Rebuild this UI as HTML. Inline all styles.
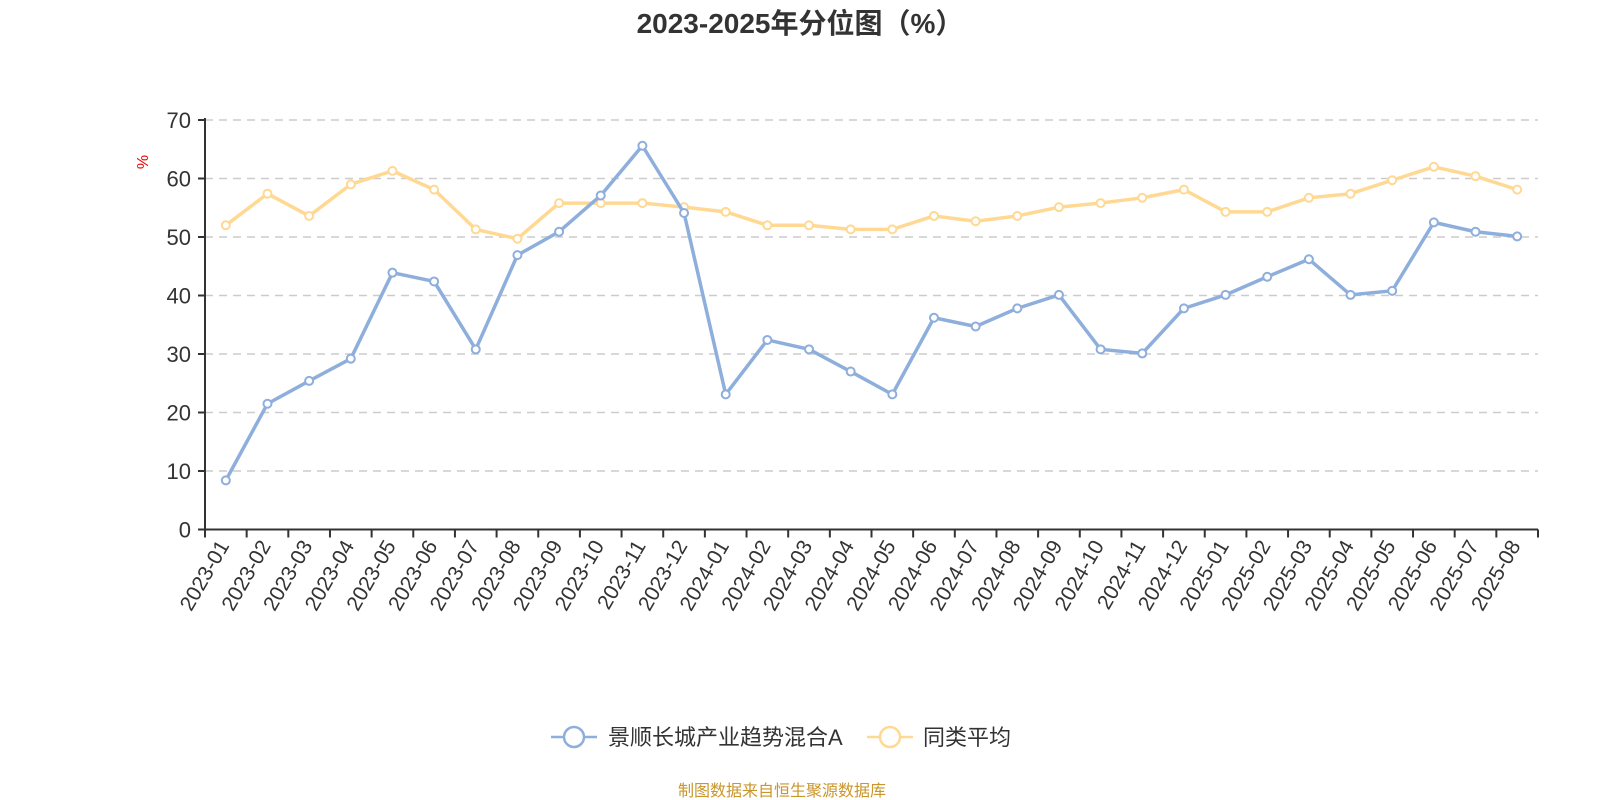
<!DOCTYPE html>
<html><head><meta charset="utf-8"><style>
html,body{margin:0;padding:0;background:#fff;}
svg{display:block;font-family:"Liberation Sans","Noto Sans CJK SC",sans-serif;}
</style></head><body>
<svg id="chart" width="1600" height="800" viewBox="0 0 1600 800" xmlns="http://www.w3.org/2000/svg">
<text x="800" y="33" text-anchor="middle" font-size="28" font-weight="bold" fill="#333">2023-2025年分位图（%）</text>
<text x="0" y="0" transform="translate(148,162) rotate(-90)" text-anchor="middle" font-size="16" fill="#e00">%</text>
<g id="grid"></g><g id="axes"></g><g id="series"></g>
<g>
<g>
<line x1="551" y1="737" x2="597" y2="737" stroke="#8eaedc" stroke-width="2.5"/>
<circle cx="574" cy="737" r="10" fill="#fff" stroke="#8eaedc" stroke-width="2.5"/>
<text x="608" y="745" font-size="22" fill="#333">景顺长城产业趋势混合A</text></g>
<g>
<line x1="867" y1="737" x2="913" y2="737" stroke="#ffd993" stroke-width="2.5"/>
<circle cx="890" cy="737" r="10" fill="#fff" stroke="#ffd993" stroke-width="2.5"/>
<text x="923" y="745" font-size="22" fill="#333">同类平均</text></g>
</g>
<text x="782" y="796" text-anchor="middle" font-size="16" fill="#c9962a">制图数据来自恒生聚源数据库</text>
</svg>
<script>
const categories=["2023-01","2023-02","2023-03","2023-04","2023-05","2023-06","2023-07","2023-08","2023-09","2023-10","2023-11","2023-12","2024-01","2024-02","2024-03","2024-04","2024-05","2024-06","2024-07","2024-08","2024-09","2024-10","2024-11","2024-12","2025-01","2025-02","2025-03","2025-04","2025-05","2025-06","2025-07","2025-08"];
const fundValues=[8.4,21.5,25.4,29.2,43.9,42.4,30.8,46.9,50.9,57.1,65.6,54.1,23.1,32.4,30.8,27.0,23.1,36.2,34.7,37.8,40.1,30.8,30.1,37.8,40.1,43.2,46.2,40.1,40.8,52.5,50.9,50.1];
const avgValues=[52.0,57.4,53.6,59.0,61.3,58.1,51.3,49.7,55.8,55.8,55.8,55.1,54.3,52.0,52.0,51.3,51.3,53.6,52.7,53.6,55.1,55.8,56.7,58.1,54.3,54.3,56.7,57.4,59.7,62.0,60.4,58.1];
const yTicks=[0,10,20,30,40,50,60,70];
const NS="http://www.w3.org/2000/svg";
const X0=205,X1=1538,Y0=529.5,Y1=120,YMAX=70;
const band=(X1-X0)/categories.length;
function xPos(i){return X0+band*(i+0.5);}
function yPos(v){return Y0-(v/YMAX)*(Y0-Y1);}
function mk(tag,attrs,parent){const e=document.createElementNS(NS,tag);for(const k in attrs)e.setAttribute(k,attrs[k]);parent.appendChild(e);return e;}
const grid=document.getElementById('grid'),axes=document.getElementById('axes'),series=document.getElementById('series');
yTicks.forEach(t=>{
  const y=yPos(t);
  if(t>0){const g=mk('line',{x1:X0,x2:X1,y1:y,y2:y,stroke:'#ccc','stroke-width':1.5,'stroke-dasharray':'8,6'},grid);
  
  }
  const tk=mk('line',{x1:X0-7,x2:X0,y1:y,y2:y,stroke:'#333','stroke-width':2},axes);
  
  
  const tl=mk('text',{x:X0-14,y:y+8,'text-anchor':'end','font-size':22,fill:'#333'},axes);
  
  
  tl.textContent=t;
});
const ya=mk('line',{x1:X0,x2:X0,y1:Y1-2,y2:Y0,stroke:'#333','stroke-width':2},axes);


const xa=mk('line',{x1:X0,x2:X1,y1:Y0,y2:Y0,stroke:'#333','stroke-width':2},axes);


for(let i=0;i<=categories.length;i++){
  const x=X0+band*i;
  const tk=mk('line',{x1:x,x2:x,y1:Y0,y2:Y0+8,stroke:'#333','stroke-width':2},axes);
  
  
}
categories.forEach((c,i)=>{
  const x=xPos(i)+4,y=Y0+16;
  const t=mk('text',{x:0,y:0,transform:`translate(${x},${y}) rotate(-60)`,'text-anchor':'end','font-size':21,fill:'#333'},axes);
  
  
  t.textContent=c;
});
function drawSeries(vals,color,name){
  const g=mk('g',{},series);
  
  
  const pts=vals.map((v,i)=>xPos(i)+','+yPos(v)).join(' ');
  const pl=mk('polyline',{points:pts,fill:'none',stroke:color,'stroke-width':3.5,'stroke-linejoin':'round'},g);
  
  
  vals.forEach((v,i)=>{
    const c=mk('circle',{cx:xPos(i),cy:yPos(v),r:4,fill:'#fff',stroke:color,'stroke-width':2},g);
    
    
  });
}
drawSeries(avgValues,'#ffd993','average-series');
drawSeries(fundValues,'#8eaedc','fund-series');
</script>
</body></html>
